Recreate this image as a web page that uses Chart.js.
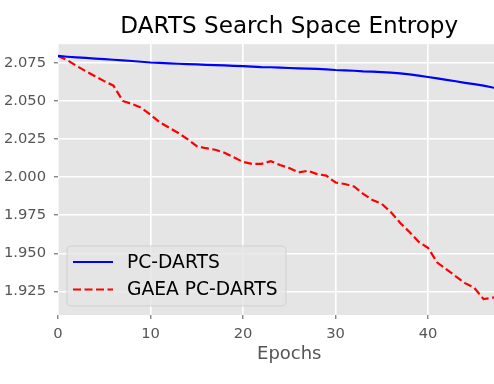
<!DOCTYPE html>
<html lang="en">
<head>
    <meta charset="UTF-8">
    <title>DARTS Search Space Entropy</title>
    <style>
        html, body { margin: 0; padding: 0; background: #fff; overflow: hidden; }
        #wrap { width: 494px; height: 384px; overflow: hidden; }
        #entropyChart { display: block; }
    </style>
</head>
<body>
    <div id="wrap">
        <canvas id="entropyChart" width="521" height="384"></canvas>
    </div>

    <script src="https://cdn.jsdelivr.net/npm/chart.js"></script>

    <script>
const epochs = [0, 1, 2, 3, 4, 5, 6, 7, 8, 9, 10, 11, 12, 13, 14, 15, 16, 17, 18, 19, 20, 21, 22, 23, 24,
                25, 26, 27, 28, 29, 30, 31, 32, 33, 34, 35, 36, 37, 38, 39, 40, 41, 42, 43, 44, 45, 46, 47, 48];

const pcDarts = [2.0795, 2.0790, 2.0786, 2.0782, 2.0778, 2.0774, 2.0770, 2.0766, 2.0762, 2.0757,
                 2.0752, 2.0749, 2.0746, 2.0744, 2.0742, 2.0740, 2.0737, 2.0735, 2.0733, 2.0730,
                 2.0728, 2.0725, 2.0722, 2.0721, 2.0719, 2.0716, 2.0714, 2.0712, 2.0710, 2.0707,
                 2.0703, 2.0701, 2.0698, 2.0694, 2.0692, 2.0689, 2.0686, 2.0681, 2.0674, 2.0666,
                 2.0657, 2.0648, 2.0638, 2.0629, 2.0619, 2.0610, 2.0600, 2.0588, 2.0578];

const gaeaPcDarts = [2.0794, 2.0768, 2.0730, 2.0695, 2.0662, 2.0630, 2.0600, 2.0500, 2.0480, 2.0455,
                     2.0410, 2.0360, 2.0325, 2.0290, 2.0250, 2.0203, 2.0190, 2.0180, 2.0160, 2.0130,
                     2.0100, 2.0087, 2.0087, 2.0105, 2.0080, 2.0060, 2.0031, 2.0042, 2.0020, 2.0010,
                     1.9965, 1.9955, 1.9939, 1.9890, 1.9850, 1.9825, 1.9770, 1.9700, 1.9640, 1.9575,
                     1.9536, 1.9440, 1.9395, 1.9350, 1.9305, 1.9275, 1.9200, 1.9210, 1.9215];

const xTicks = [0, 10, 20, 30, 40, 50];
const yTicks = [1.925, 1.950, 1.975, 2.000, 2.025, 2.050, 2.075];

const X_MIN = 0, X_MAX = 50;
const Y_MIN = 1.9096, Y_MAX = 2.0872;

const tickFont = { family: 'DejaVu Sans', size: 14.7 };
const textGrey = '#555555';

// grey panel behind the plot, ggplot style
const panelBackground = {
  id: 'panelBackground',
  beforeDraw: (chart) => {
    const { ctx, chartArea: a } = chart;
    ctx.save();
    ctx.fillStyle = '#E5E5E5';
    ctx.fillRect(a.left, a.top, a.right - a.left, a.bottom - a.top);
    ctx.restore();
  }
};

// legend drawn inside the lower left corner of the plot
const insideLegend = {
  id: 'insideLegend',
  afterDatasetsDraw: (chart) => {
    const { ctx, chartArea: a } = chart;
    const x = a.left + 9, y = a.bottom - 69, w = 219, h = 60;
    ctx.save();
    ctx.beginPath();
    ctx.roundRect(x, y, w, h, 4);
    ctx.fillStyle = 'rgba(229,229,229,0.8)';
    ctx.fill();
    ctx.strokeStyle = 'rgba(204,204,204,0.8)';
    ctx.lineWidth = 1;
    ctx.stroke();
    ctx.font = '18.7px "DejaVu Sans"';
    ctx.textBaseline = 'middle';
    chart.data.datasets.forEach((ds, i) => {
      const ly = y + 16 + i * 27.5;
      ctx.beginPath();
      ctx.strokeStyle = ds.borderColor;
      ctx.lineWidth = ds.borderWidth;
      ctx.setLineDash(ds.borderDash || []);
      ctx.moveTo(x + 6, ly);
      ctx.lineTo(x + 46, ly);
      ctx.stroke();
      ctx.setLineDash([]);
      ctx.fillStyle = '#000';
      ctx.fillText(ds.label, x + 60, ly + 1);
    });
    ctx.restore();
  }
};

const toPoints = (ys) => ys.map((v, i) => ({ x: epochs[i], y: v }));

new Chart(document.getElementById('entropyChart'), {
  type: 'line',
  data: {
    datasets: [{
      label: 'PC-DARTS',
      data: toPoints(pcDarts),
      borderColor: '#0000FF',
      borderWidth: 2.2,
      pointRadius: 0,
      tension: 0
    }, {
      label: 'GAEA PC-DARTS',
      data: toPoints(gaeaPcDarts),
      borderColor: '#FF0000',
      borderWidth: 2.2,
      borderDash: [8, 3.5],
      pointRadius: 0,
      tension: 0
    }]
  },
  options: {
    responsive: false,
    animation: false,
    devicePixelRatio: 1,
    layout: { padding: { left: 0, right: 0.5, top: 0, bottom: 0 } },
    plugins: {
      legend: { display: false },
      tooltip: { enabled: false },
      title: {
        display: true,
        text: 'DARTS Search Space Entropy',
        color: '#000',
        fullSize: false,
        font: { family: 'DejaVu Sans', size: 23.1, weight: 'normal' },
        padding: { top: 13.5, bottom: 3 }
      }
    },
    scales: {
      x: {
        type: 'linear',
        min: X_MIN,
        max: X_MAX,
        afterBuildTicks: (s) => { s.ticks = xTicks.map(v => ({ value: v })); },
        afterFit: (s) => { s.height = 69; s.paddingLeft = 0; s.paddingRight = 0; },
        border: { display: false },
        grid: { color: '#FFFFFF', lineWidth: 1.6, tickColor: textGrey, tickLength: 4, tickWidth: 1 },
        ticks: { color: textGrey, font: tickFont, padding: 6, maxRotation: 0 },
        title: {
          display: true,
          text: 'Epochs',
          color: textGrey,
          font: { family: 'DejaVu Sans', size: 18 },
          padding: { top: 0, bottom: 19 }
        }
      },
      y: {
        min: Y_MIN,
        max: Y_MAX,
        afterBuildTicks: (s) => { s.ticks = yTicks.map(v => ({ value: v })); },
        afterFit: (s) => { s.width = 58; s.paddingTop = 0; s.paddingBottom = 0; },
        border: { display: false },
        grid: { color: '#FFFFFF', lineWidth: 1.6, tickColor: textGrey, tickLength: 4, tickWidth: 1 },
        ticks: { color: textGrey, font: tickFont, padding: 8, callback: (v) => v.toFixed(3) }
      }
    }
  },
  plugins: [panelBackground, insideLegend]
});
    </script>
</body>
</html>
